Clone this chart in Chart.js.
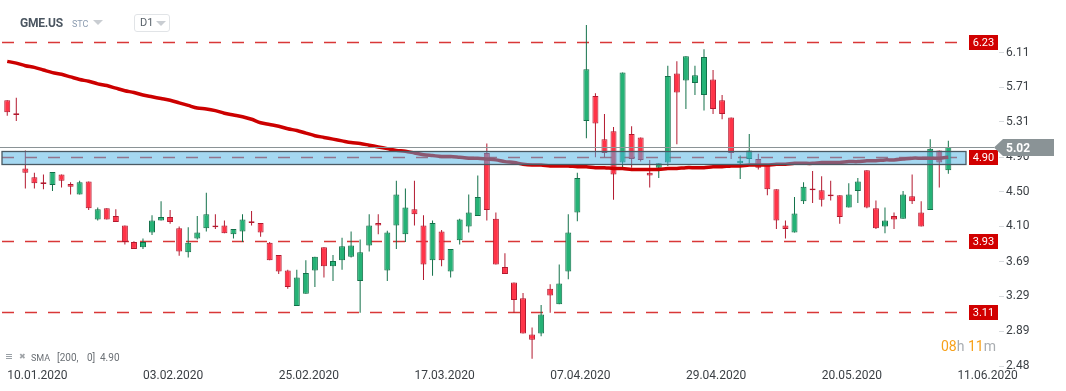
<!DOCTYPE html>
<html><head><meta charset="utf-8">
<script src="https://cdn.jsdelivr.net/npm/chart.js@4.4.1/dist/chart.umd.min.js"></script>
<style>
html,body{margin:0;padding:0;background:#fff;overflow:hidden;}
#wrap{position:relative;width:1066px;height:391px;font-family:Roboto,"Noto Sans",sans-serif;}
#c{position:absolute;left:0;top:0;}
.ov{position:absolute;white-space:pre;line-height:1;}
.tri{position:absolute;width:0;height:0;border-left:5px solid transparent;border-right:5px solid transparent;border-top:5px solid #c9cdd2;}
</style></head><body>
<div id="wrap">
<canvas id="c" width="1066" height="391"></canvas>
<div class="ov" style="left:20px;top:17px;font-weight:700;font-size:12px;color:#4b5661;letter-spacing:-0.2px;">GME.US</div>
<div class="ov" style="left:72px;top:20px;font-size:9px;color:#8c9cb0;">STC</div>
<div class="tri" style="left:93px;top:20px;"></div>
<div style="position:absolute;left:134px;top:14px;width:34px;height:16px;border:1px solid #e1e4e7;border-radius:3px;"></div>
<div class="ov" style="left:140px;top:17px;font-size:11px;color:#5a636b;">D1</div>
<div class="tri" style="left:156px;top:21px;"></div>
<div style="position:absolute;left:6px;top:354px;width:6px;height:1px;background:#9aa0a6;box-shadow:0 2px 0 #9aa0a6,0 4px 0 #9aa0a6;"></div>
<div class="ov" style="left:19px;top:353px;font-size:8px;color:#a0a4a8;">✖</div>
<div class="ov" style="left:31px;top:354px;font-size:9px;color:#6b7075;">SMA</div>
<div class="ov" style="left:57px;top:353px;font-size:10px;color:#6b7075;">[200,</div>
<div class="ov" style="left:87px;top:353px;font-size:10px;color:#6b7075;">0]</div>
<div class="ov" style="left:100px;top:353px;font-size:10px;color:#6b7075;">4.90</div>
<div class="ov" style="left:941px;top:339px;font-size:14px;"><span style="color:#f7a11a">08</span><span style="color:#a9adb1">h </span><span style="color:#f7a11a">11</span><span style="color:#a9adb1">m</span></div>
</div>
<script>
// ---- data ----
const dates = ["10.01.2020","13.01.2020","14.01.2020","15.01.2020","16.01.2020","17.01.2020","21.01.2020","22.01.2020","23.01.2020","24.01.2020","27.01.2020","28.01.2020","29.01.2020","30.01.2020","31.01.2020",
"03.02.2020","04.02.2020","05.02.2020","06.02.2020","07.02.2020","10.02.2020","11.02.2020","12.02.2020","13.02.2020","14.02.2020","18.02.2020","19.02.2020","20.02.2020","21.02.2020","24.02.2020","25.02.2020","26.02.2020","27.02.2020","28.02.2020",
"02.03.2020","03.03.2020","04.03.2020","05.03.2020","06.03.2020","09.03.2020","10.03.2020","11.03.2020","12.03.2020","13.03.2020","16.03.2020","17.03.2020","18.03.2020","19.03.2020","20.03.2020","23.03.2020","24.03.2020","25.03.2020","26.03.2020","27.03.2020","30.03.2020","31.03.2020",
"01.04.2020","02.04.2020","03.04.2020","06.04.2020","07.04.2020","08.04.2020","09.04.2020","13.04.2020","14.04.2020","15.04.2020","16.04.2020","17.04.2020","20.04.2020","21.04.2020","22.04.2020","23.04.2020","24.04.2020","27.04.2020","28.04.2020","29.04.2020","30.04.2020",
"01.05.2020","04.05.2020","05.05.2020","06.05.2020","07.05.2020","08.05.2020","11.05.2020","12.05.2020","13.05.2020","14.05.2020","15.05.2020","18.05.2020","19.05.2020","20.05.2020","21.05.2020","22.05.2020","26.05.2020","27.05.2020","28.05.2020","29.05.2020",
"01.06.2020","02.06.2020","03.06.2020","04.06.2020","05.06.2020","08.06.2020","09.06.2020","10.06.2020","11.06.2020"];
const tickLabels = ["10.01.2020","03.02.2020","25.02.2020","17.03.2020","07.04.2020","29.04.2020","20.05.2020","11.06.2020"];
const yTickValues = [6.11,5.71,5.31,4.90,4.50,4.10,3.69,3.29,2.89,2.48];

const open = [5.56,5.41,4.77,4.67,4.61,4.58,4.70,4.59,4.47,4.62,4.18,4.31,4.22,4.11,3.92,3.86,4.03,4.17,4.21,4.08,
3.80,3.96,4.08,4.11,4.11,4.01,4.04,4.16,4.14,3.91,3.77,3.59,3.18,3.32,3.59,3.86,3.64,3.71,3.75,3.47,
3.88,4.14,3.59,4.11,4.01,4.30,4.11,3.71,4.04,3.58,3.94,4.10,4.22,4.95,4.19,3.63,3.45,3.27,2.85,2.86,
3.38,3.20,3.58,4.26,5.32,5.61,5.11,5.20,4.84,5.17,5.13,4.72,4.78,4.84,5.87,5.79,5.76,5.62,5.80,5.56,
5.36,4.83,4.88,4.88,4.81,4.53,4.11,4.03,4.39,4.54,4.52,4.47,4.46,4.32,4.51,4.75,4.31,4.10,4.22,4.19,
4.45,4.26,4.29,4.98,4.75];
const high = [5.56,5.59,4.98,4.72,4.70,4.73,4.70,4.61,4.63,4.62,4.32,4.31,4.30,4.11,3.93,3.96,4.23,4.39,4.29,4.10,
4.09,4.22,4.49,4.24,4.17,4.07,4.24,4.28,4.14,3.92,3.77,3.60,3.60,3.71,3.75,3.86,3.77,3.97,4.04,3.95,
4.24,4.24,4.05,4.63,4.54,4.63,4.23,4.17,4.06,3.84,4.19,4.47,4.69,5.06,4.26,3.79,3.45,3.33,2.93,3.19,
3.43,3.66,4.24,4.72,6.43,5.64,5.40,5.25,5.88,5.26,5.13,4.87,4.83,5.96,6.01,6.07,5.96,6.15,5.91,5.62,
5.36,4.92,5.17,4.94,4.81,4.53,4.17,4.44,4.61,4.74,4.68,4.63,4.46,4.60,4.66,4.75,4.40,4.32,4.26,4.51,
4.70,4.39,5.11,4.98,5.09];
const low = [5.38,5.32,4.54,4.54,4.53,4.51,4.55,4.47,4.47,4.29,4.17,4.18,4.15,3.89,3.84,3.84,4.00,4.17,4.13,3.76,
3.74,3.95,4.04,4.07,4.02,3.96,3.92,4.11,3.98,3.71,3.55,3.38,3.18,3.32,3.40,3.51,3.47,3.60,3.74,3.10,
3.81,4.01,3.47,3.84,3.92,4.11,3.48,3.53,3.64,3.51,3.89,4.03,4.22,4.17,3.66,3.55,3.10,2.86,2.57,2.83,
3.10,3.20,3.49,4.16,5.12,4.90,4.90,4.41,4.78,4.78,4.85,4.55,4.66,4.80,5.05,5.46,5.62,5.44,5.40,5.34,
4.88,4.65,4.83,4.76,4.46,4.07,3.96,4.03,4.36,4.37,4.33,4.40,4.13,4.32,4.37,4.31,4.07,4.02,4.07,4.19,
4.36,4.10,4.29,4.55,4.71];
const close = [5.42,5.39,4.72,4.60,4.59,4.73,4.63,4.56,4.61,4.31,4.30,4.18,4.15,3.92,3.84,3.92,4.17,4.21,4.15,3.81,
3.91,4.03,4.24,4.09,4.02,4.07,4.18,4.14,4.03,3.71,3.58,3.40,3.51,3.56,3.75,3.64,3.70,3.87,3.88,3.80,
4.11,4.11,4.03,4.47,4.32,4.24,3.66,4.14,3.71,3.84,4.18,4.26,4.44,4.29,3.66,3.55,3.25,2.86,2.79,3.08,
3.30,3.44,4.03,4.66,5.92,5.29,4.95,4.70,5.88,4.88,4.87,4.69,4.83,5.84,5.65,6.07,5.85,6.06,5.46,5.40,
4.95,4.86,4.98,4.78,4.53,4.17,4.07,4.25,4.56,4.52,4.41,4.45,4.21,4.47,4.62,4.32,4.08,4.17,4.18,4.47,
4.39,4.10,5.00,4.84,5.02];
const sma200 = [6.01,5.99,5.96,5.94,5.91,5.88,5.86,5.83,5.80,5.78,5.75,5.73,5.70,5.67,5.65,5.62,5.60,5.58,5.56,5.53,
5.50,5.47,5.46,5.44,5.41,5.39,5.37,5.34,5.30,5.28,5.26,5.23,5.21,5.18,5.15,5.13,5.11,5.09,5.07,5.06,
5.04,5.02,5.00,4.98,4.97,4.95,4.93,4.92,4.91,4.91,4.90,4.89,4.89,4.88,4.87,4.85,4.84,4.82,4.81,4.81,
4.80,4.80,4.80,4.79,4.79,4.78,4.78,4.77,4.77,4.76,4.76,4.76,4.76,4.77,4.77,4.78,4.78,4.78,4.79,4.79,
4.80,4.80,4.81,4.81,4.81,4.82,4.82,4.83,4.83,4.83,4.84,4.84,4.84,4.85,4.85,4.86,4.86,4.87,4.87,4.88,
4.89,4.89,4.89,4.89,4.90];
const levels = [6.23, 4.90, 3.93, 3.11];
const zoneRange = [4.82, 4.97];
const lastPrice = 5.02;

// ---- build ----
const idx = open.map((_, i) => i);
const up = idx.map(i => close[i] >= open[i]);
const bodyFill = up.map(u => u ? '#25b276' : '#ff3448');
const edge = up.map(u => u ? '#13714a' : '#b3192f');

const noPad = s => { s.paddingTop = 0; s.paddingBottom = 0; s.paddingLeft = 0; s.paddingRight = 0; };

const overlay = {
  id: 'overlay',
  beforeDatasetsDraw(chart) {
    const {ctx, chartArea: a, scales: {y}} = chart;
    ctx.save();
    ctx.setLineDash([12, 11]);
    ctx.lineWidth = 1.5;
    ctx.strokeStyle = 'rgba(210,20,20,0.85)';
    levels.forEach(v => {
      const py = Math.round(y.getPixelForValue(v)) + 0.5;
      ctx.beginPath(); ctx.moveTo(a.left + 2, py); ctx.lineTo(a.right - 33, py); ctx.stroke();
    });
    ctx.restore();
  },
  afterDatasetsDraw(chart) {
    const {ctx, chartArea: a, scales: {y}} = chart;
    ctx.save();
    const t = Math.round(y.getPixelForValue(zoneRange[1])) + 0.5;
    const b = Math.round(y.getPixelForValue(zoneRange[0])) + 0.5;
    ctx.fillStyle = 'rgba(75,178,228,0.5)';
    ctx.fillRect(a.left + 2, t, a.right - 33 - a.left - 2, b - t);
    ctx.strokeStyle = '#4b5a63'; ctx.lineWidth = 1.3;
    ctx.strokeRect(a.left + 2, t, a.right - 33 - a.left - 2, b - t);
    const py = Math.round(y.getPixelForValue(lastPrice)) + 0.5;
    ctx.strokeStyle = '#8a9396'; ctx.lineWidth = 1;
    ctx.beginPath(); ctx.moveTo(a.left, py); ctx.lineTo(a.right - 5, py); ctx.stroke();
    ctx.restore();
  },
  afterDraw(chart) {
    const {ctx, chartArea: a, scales: {y}} = chart;
    ctx.save();
    ctx.font = '11px Roboto';
    ctx.textAlign = 'center'; ctx.textBaseline = 'middle';
    levels.forEach(v => {
      const py = Math.round(y.getPixelForValue(v));
      ctx.fillStyle = '#d10000';
      ctx.fillRect(a.right - 30, py - 7, 29, 15);
      ctx.fillStyle = '#ffffff';
      ctx.fillText(v.toFixed(2), a.right - 15.5, py + 1);
    });
    const py = Math.round(y.getPixelForValue(lastPrice)) + 0.5;
    ctx.fillStyle = '#8a9396';
    ctx.beginPath();
    ctx.moveTo(a.right - 5, py);
    ctx.lineTo(a.right + 4, py - 8.5);
    ctx.lineTo(a.right + 55, py - 8.5);
    ctx.lineTo(a.right + 55, py + 8.5);
    ctx.lineTo(a.right + 4, py + 8.5);
    ctx.closePath(); ctx.fill();
    ctx.fillStyle = '#ffffff';
    ctx.font = 'bold 12px Roboto';
    ctx.textAlign = 'left';
    ctx.fillText(lastPrice.toFixed(2), a.right + 7, py + 1);
    ctx.restore();
  }
};

new Chart(document.getElementById('c'), {
  type: 'bar',
  data: {
    datasets: [
      { type: 'line', label: 'SMA', data: idx.map(i => ({x: i, y: sma200[i]})),
        borderColor: '#cc0000', borderWidth: 3.5, pointRadius: 0, tension: 0.3, order: 0 },
      { label: 'body', data: idx.map(i => ({x: i, y: [open[i], close[i]]})),
        backgroundColor: bodyFill, borderColor: edge, borderWidth: 1, borderSkipped: false,
        grouped: false, maxBarThickness: 6, order: 1 },
      { label: 'wick', data: idx.map(i => ({x: i, y: [low[i], high[i]]})),
        backgroundColor: edge, borderWidth: 0, grouped: false, maxBarThickness: 1, order: 2 }
    ]
  },
  options: {
    responsive: false, animation: false, devicePixelRatio: 1, events: [],
    layout: { padding: 0 },
    plugins: { legend: { display: false }, tooltip: { enabled: false } },
    scales: {
      x: {
        type: 'linear', min: -0.8, max: 109.6, bounds: 'data', offset: false,
        grid: { display: false, drawTicks: false },
        border: { display: false },
        afterBuildTicks: s => { s.ticks = tickLabels.map(l => ({value: dates.indexOf(l)})); },
        afterFit: s => { s.height = 23; noPad(s); },
        ticks: { autoSkip: false, maxRotation: 0, align: 'start', padding: 1,
          font: { family: 'Roboto', size: 12 }, color: '#3a3f44',
          callback: v => dates[v] }
      },
      y: {
        type: 'linear', position: 'right', min: 2.462, max: 6.72, bounds: 'data',
        grid: { drawOnChartArea: false, drawTicks: true, tickLength: 5, color: '#d8dbde' },
        border: { display: false },
        afterBuildTicks: s => { s.ticks = yTickValues.map(v => ({value: v})); },
        afterFit: s => { s.width = 67; noPad(s); },
        ticks: { autoSkip: false, padding: 2, font: { family: 'Roboto', size: 12 }, color: '#3a3f44',
          callback: v => v.toFixed(2) }
      }
    }
  },
  plugins: [overlay]
});
</script>
</body></html>
